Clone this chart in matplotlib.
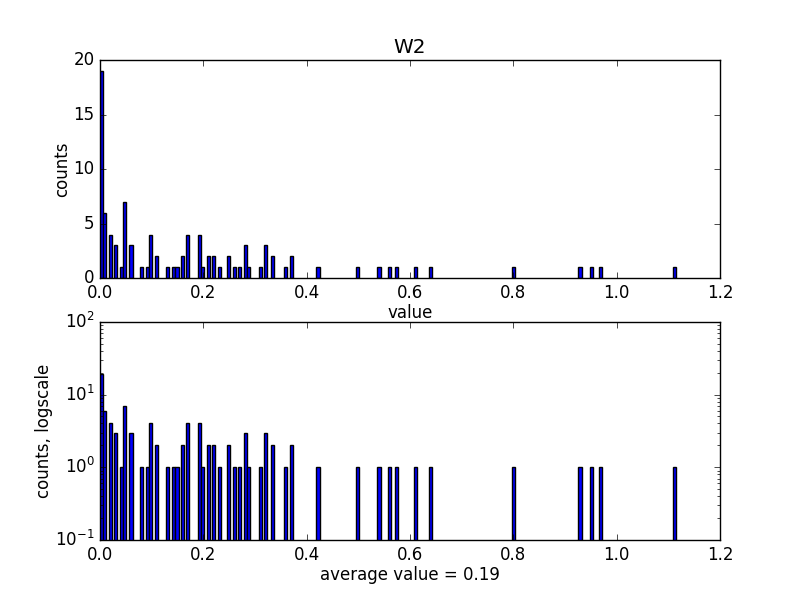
import numpy as np
import matplotlib
matplotlib.use('Agg')
import matplotlib.pyplot as plt

plt.style.use('classic')

# bin centres (value) and counts
bin_centers = [0.003, 0.009, 0.021, 0.030, 0.042, 0.048, 0.060, 0.081, 0.092,
               0.098, 0.110, 0.131, 0.143, 0.149, 0.160, 0.170, 0.193, 0.199,
               0.210, 0.220, 0.232, 0.249, 0.261, 0.270, 0.282, 0.288, 0.311,
               0.321, 0.333, 0.359, 0.371, 0.422, 0.499, 0.540, 0.561, 0.573,
               0.611, 0.639, 0.801, 0.929, 0.952, 0.969, 1.112]
counts = [19, 6, 4, 3, 1, 7, 3, 1, 1,
          4, 2, 1, 1, 1, 2, 4, 4, 1,
          2, 2, 1, 2, 1, 1, 3, 1, 1,
          3, 2, 1, 2, 1, 1, 1, 1, 1,
          1, 1, 1, 1, 1, 1, 1]
avg_value = 0.19
bar_width = 0.006

fig = plt.figure(figsize=(8, 6), dpi=100)
fig.patch.set_facecolor('white')

ax1 = fig.add_subplot(2, 1, 1)
ax1.bar(bin_centers, counts, width=bar_width, align='center',
        color='blue', edgecolor='black')
ax1.set_xlim(0, 1.2)
ax1.set_ylim(0, 20)
ax1.set_title('W2')
ax1.set_xlabel('value', labelpad=1.5)
ax1.set_ylabel('counts', labelpad=1.5)

ax2 = fig.add_subplot(2, 1, 2)
ax2.bar(bin_centers, counts, width=bar_width, align='center',
        color='blue', edgecolor='black', log=True)
ax2.set_xlim(0, 1.2)
ax2.set_ylim(0.1, 100)
ax2.set_xlabel('average value = %.2f' % avg_value, labelpad=1.5)
ax2.set_ylabel('counts, logscale', labelpad=1.5)

fig.savefig('out.png', dpi=100, facecolor='white')
